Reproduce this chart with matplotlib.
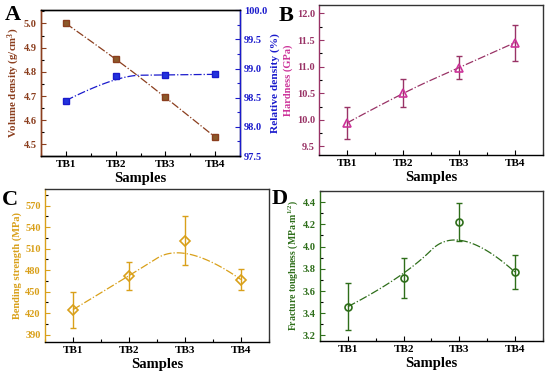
import numpy as np
import matplotlib
matplotlib.use("Agg")
import matplotlib.pyplot as plt
from matplotlib.ticker import AutoMinorLocator, MultipleLocator

plt.rcParams['font.family'] = ['Liberation Serif', 'DejaVu Serif']
plt.rcParams['font.weight'] = 'bold'
plt.rcParams['mathtext.fontset'] = 'custom'
plt.rcParams['mathtext.rm'] = 'Liberation Serif:bold'
plt.rcParams['mathtext.bf'] = 'Liberation Serif:bold'
plt.rcParams['mathtext.default'] = 'bf'

# data
samples = ["TB1", "TB2", "TB3", "TB4"]
volume_density = [5.00, 4.855, 4.695, 4.53]
relative_density = [98.45, 98.88, 98.89, 98.90]
hardness = [9.94, 10.51, 10.98, 11.45]
hardness_err = [0.31, 0.26, 0.22, 0.34]
bending = [425, 472, 521, 467]
bending_err = [25, 19, 34, 15]
toughness = [3.46, 3.72, 4.22, 3.77]
toughness_err = [0.21, 0.18, 0.17, 0.15]

x = np.arange(1, len(samples) + 1)


def bspline2(xs, ys, n=60):
    # clamped quadratic B-spline through the end points (like Origin B-Spline)
    px = np.asarray(xs, float)
    py = np.asarray(ys, float)
    mx = (px[1:-1][:-1] + px[1:-1][1:]) / 2
    my = (py[1:-1][:-1] + py[1:-1][1:]) / 2
    starts_x = np.concatenate([[px[0]], mx])
    starts_y = np.concatenate([[py[0]], my])
    ends_x = np.concatenate([mx, [px[-1]]])
    ends_y = np.concatenate([my, [py[-1]]])
    t = np.linspace(0, 1, n)
    cx, cy = [], []
    for i in range(len(starts_x)):
        a = (1 - t) ** 2
        b = 2 * t * (1 - t)
        c = t ** 2
        cx.append(a * starts_x[i] + b * px[i + 1] + c * ends_x[i])
        cy.append(a * starts_y[i] + b * py[i + 1] + c * ends_y[i])
    return np.concatenate(cx), np.concatenate(cy)


def style_axes(ax, color, right=False):
    ax.set_xlim(0.5, 4.5)
    ax.set_xticks(x)
    ax.set_xticklabels(samples, fontsize=8, fontweight='bold')
    ax.xaxis.set_minor_locator(MultipleLocator(0.5))
    ax.yaxis.set_minor_locator(AutoMinorLocator(2))
    ax.tick_params(axis='both', which='both', direction='in', top=False, right=right, pad=3)
    ax.tick_params(axis='both', which='major', length=3.5, width=0.8)
    ax.tick_params(axis='both', which='minor', length=2, width=0.8)
    ax.tick_params(axis='y', colors=color, labelsize=7.5)
    ax.spines['left'].set_color(color)
    ax.spines['top'].set_color('#333333')
    ax.spines['right'].set_color('#333333')
    for s in ax.spines.values():
        s.set_linewidth(1.0)
    for lab in ax.get_yticklabels():
        lab.set_fontweight('bold')
    ax.set_xlabel("Samples", fontsize=10.5, fontweight='bold', labelpad=2)


fig = plt.figure(figsize=(5.5, 3.76), dpi=100)

# ---- A ----
brown = '#8B3E1E'
blue = '#1A1ACC'
axA = fig.add_axes([0.0745, 0.585, 0.362, 0.388])
cx, cy = bspline2(x, volume_density)
axA.plot(cx, cy, color=brown, lw=0.9, ls='-.')
axA.plot(x, volume_density, 's', color=brown, ms=4.5, mfc='#8B5A2B', mec=brown)
axA.set_ylim(4.452, 5.055)
axA.yaxis.set_major_locator(MultipleLocator(0.1))
style_axes(axA, brown)
axA.set_ylabel("Volume density (g/cm$^3$)", color=brown, fontsize=7.8, fontweight='bold', labelpad=1)
axA2 = axA.twinx()
cx, cy = bspline2(x, relative_density)
axA2.plot(cx, cy, color=blue, lw=0.9, ls='-.')
axA2.plot(x, relative_density, 's', color=blue, ms=4.5, mfc='#2233DD', mec=blue)
axA2.set_ylim(97.5, 100.0)
axA2.yaxis.set_major_locator(MultipleLocator(0.5))
axA2.yaxis.set_minor_locator(AutoMinorLocator(2))
axA2.tick_params(axis='y', which='both', direction='in', colors=blue, labelsize=7.5, pad=3)
axA2.tick_params(axis='y', which='major', length=3.5, width=0.8)
axA2.tick_params(axis='y', which='minor', length=2, width=0.8)
axA2.spines['right'].set_color(blue)
axA2.spines['left'].set_color(brown)
for s in axA2.spines.values():
    s.set_linewidth(1.0)
axA2.set_ylabel("Relative density (%)", color=blue, fontsize=8.2, fontweight='bold', labelpad=2)
for lab in axA2.get_yticklabels():
    lab.set_fontweight('bold')
fig.text(0.008, 0.96, "A", fontsize=16, fontweight='bold', va='center')

# ---- B ----
mag = '#993366'
pink = '#CC3399'
axB = fig.add_axes([0.58, 0.588, 0.407, 0.399])
cx, cy = bspline2(x, hardness)
axB.plot(cx, cy, color=mag, lw=0.9, ls='-.')
axB.errorbar(x, hardness, yerr=hardness_err, fmt='none', ecolor=mag, elinewidth=1.0, capsize=2.5, capthick=1.0)
axB.plot(x, hardness, '^', ms=5.5, mfc='none', mec=pink, mew=1.2)
axB.set_ylim(9.34, 12.16)
axB.yaxis.set_major_locator(MultipleLocator(0.5))
style_axes(axB, mag)
axB.set_ylabel("Hardness (GPa)", color=pink, fontsize=7.5, fontweight='bold', labelpad=3)
fig.text(0.506, 0.958, "B", fontsize=16, fontweight='bold', va='center')

# ---- C ----
gold = '#D9A01A'
axC = fig.add_axes([0.0818, 0.0904, 0.407, 0.407])
cx, cy = bspline2(x, bending)
axC.plot(cx, cy, color=gold, lw=0.9, ls='-.')
axC.errorbar(x, bending, yerr=bending_err, fmt='none', ecolor=gold, elinewidth=1.0, capsize=2.5, capthick=1.0)
axC.plot(x, bending, 'D', ms=5, mfc='none', mec=gold, mew=1.2)
axC.set_ylim(380, 593)
axC.yaxis.set_major_locator(MultipleLocator(30))
style_axes(axC, gold)
axC.set_ylabel("Bending strength (MPa)", color=gold, fontsize=7.5, fontweight='bold', labelpad=2)
fig.text(0.004, 0.468, "C", fontsize=16, fontweight='bold', va='center')

# ---- D ----
green = '#2E6E1A'
axD = fig.add_axes([0.582, 0.093, 0.405, 0.399])
cx, cy = bspline2(x, toughness)
axD.plot(cx, cy, color=green, lw=0.9, ls='-.')
axD.errorbar(x, toughness, yerr=toughness_err, fmt='none', ecolor=green, elinewidth=1.0, capsize=2.5, capthick=1.0)
axD.plot(x, toughness, 'o', ms=5, mfc='none', mec=green, mew=1.2)
axD.set_ylim(3.15, 4.5)
axD.yaxis.set_major_locator(MultipleLocator(0.2))
style_axes(axD, green)
axD.set_ylabel("Fracture toughness (MPa$\\cdot$m$^{1/2}$)", color=green, fontsize=7.0, fontweight='bold', labelpad=2)
fig.text(0.494, 0.47, "D", fontsize=16, fontweight='bold', va='center')

fig.savefig("out.png", dpi=100)
